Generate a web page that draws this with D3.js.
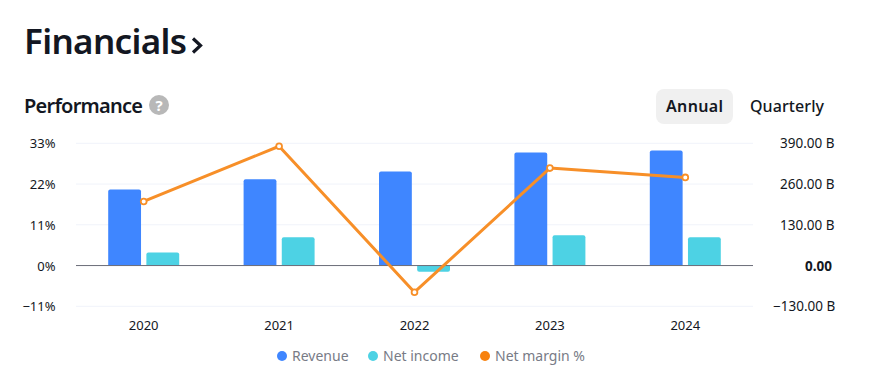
<!DOCTYPE html>
<html><head><meta charset="utf-8">
<script src="https://cdn.jsdelivr.net/npm/d3@7"></script>
<style>
html,body{margin:0;padding:0;background:#fff}
svg{display:block;font-family:"Noto Sans",sans-serif}
</style></head><body><svg id="c" width="873" height="391"></svg>
<script>
const years=["2020","2021","2022","2023","2024"];
const revenue=[243,275,300,361,367];
const netIncome=[42,90,-20,97,90];
const netMargin=[17.3,32.2,-7.2,26.3,23.8];
const leftTicks=[33,22,11,0,-11];
const rightTicks=[390,260,130,0,-130];
const leftLabels=["33%","22%","11%","0%","−11%"];
const rightLabels=["390.00 B","260.00 B","130.00 B","0.00","−130.00 B"];
const legendItems=[["Revenue","#3f86ff",282],["Net income","#4dd2e4",373],["Net margin %","#f7820f",485]];

const svg=d3.select("#c");
const x=d3.scaleBand().domain(years).range([76,753]);
const sub=d3.scaleBand().domain(["r","n"]).range([-35.5,35.5]).paddingInner(0.14);
const yL=d3.scaleLinear().domain([-11,33]).range([306.3,143.3]);
const yR=d3.scaleLinear().domain([-130,390]).range([306.3,143.3]);
const ink="#131722";

svg.append("text").attr("x",24).attr("y",54).attr("font-size",35).attr("font-weight",600).attr("fill",ink).attr("textLength",163).attr("lengthAdjust","spacing").text("Financials");
svg.append("path").attr("d","M193 38.5l7.5 7l-7.5 7").attr("fill","none").attr("stroke",ink).attr("stroke-width",3.2);
svg.append("text").attr("x",24).attr("y",113).attr("font-size",20).attr("font-weight",600).attr("fill",ink).attr("textLength",119).text("Performance");
svg.append("circle").attr("cx",159).attr("cy",105).attr("r",10).attr("fill","#b8b8b8");
svg.append("text").attr("x",159).attr("y",110.5).attr("text-anchor","middle").attr("font-size",15).attr("font-weight",700).attr("fill","#fff").text("?");
svg.append("rect").attr("x",656).attr("y",89).attr("width",77).attr("height",35).attr("rx",8).attr("fill","#f0f0f0");
svg.append("text").attr("x",694.5).attr("y",112).attr("text-anchor","middle").attr("font-size",16).attr("font-weight",600).attr("fill",ink).attr("textLength",57).text("Annual");
svg.append("text").attr("x",750).attr("y",112).attr("font-size",16).attr("font-weight",500).attr("fill",ink).attr("textLength",74).text("Quarterly");

// grid
const gridTicks=leftTicks.filter(t=>t!==0);
svg.append("g").selectAll("line").data(gridTicks).join("line")
 .attr("x1",76).attr("x2",753).attr("y1",d=>yL(d)).attr("y2",d=>yL(d)).attr("stroke","#f0f3fa").attr("stroke-width",1);

// left/right labels
svg.append("g").selectAll("text").data(leftTicks).join("text")
 .attr("x",55.5).attr("y",d=>yL(d)+5.1).attr("text-anchor","end").attr("font-size",13).attr("fill",ink)
 .text((d,i)=>leftLabels[i]);
svg.append("g").selectAll("text").data(rightTicks).join("text")
 .attr("x",780).attr("y",d=>yR(d)+5.1).attr("font-size",13.5).attr("fill",ink)
 .attr("font-weight",d=>d===0?700:400)
 .attr("dx",d=>d===0?25:(d<0?-7:0))
 .text((d,i)=>rightLabels[i]);

// bars
function bar(x0,w,y0,y1,r){ // rounded on the value end
 const top=Math.min(y0,y1),bot=Math.max(y0,y1);
 if(y1<y0) return `M${x0},${bot}V${top+r}Q${x0},${top} ${x0+r},${top}H${x0+w-r}Q${x0+w},${top} ${x0+w},${top+r}V${bot}Z`;
 return `M${x0},${top}V${bot-r}Q${x0},${bot} ${x0+r},${bot}H${x0+w-r}Q${x0+w},${bot} ${x0+w},${bot-r}V${top}Z`;
}
const cx=d=>x(d)+x.bandwidth()/2;
svg.append("g").selectAll("path").data(years).join("path")
 .attr("fill","#3f86ff").attr("d",(d,i)=>bar(cx(d)+sub("r"),sub.bandwidth(),yR(0),yR(revenue[i]),2));
svg.append("g").selectAll("path").data(years).join("path")
 .attr("fill","#4dd2e4").attr("d",(d,i)=>bar(cx(d)+sub("n"),sub.bandwidth(),yR(0),yR(netIncome[i]),2));

// zero line
svg.append("line").attr("x1",76).attr("x2",753).attr("y1",yL(0)).attr("y2",yL(0)).attr("stroke","#6a6d78").attr("stroke-width",1);

// line
const line=d3.line().x(d=>cx(d.y)).y(d=>yL(d.v));
const pts=years.map((y,i)=>({y,v:netMargin[i]}));
svg.append("path").datum(pts).attr("d",line).attr("fill","none").attr("stroke","#f78f28").attr("stroke-width",3).attr("stroke-linejoin","round");
svg.append("g").selectAll("circle").data(pts).join("circle")
 .attr("cx",d=>cx(d.y)).attr("cy",d=>yL(d.v)).attr("r",2.9).attr("fill","#fff").attr("stroke","#f78f28").attr("stroke-width",1.8);

// x labels
svg.append("g").selectAll("text").data(years).join("text")
 .attr("x",d=>cx(d)).attr("y",330).attr("text-anchor","middle").attr("font-size",13).attr("fill",ink).text(d=>d);

// legend
const lg=svg.append("g").selectAll("g").data(legendItems).join("g");
lg.append("circle").attr("cx",d=>d[2]).attr("cy",356).attr("r",5).attr("fill",d=>d[1]);
lg.append("text").attr("x",d=>d[2]+10).attr("y",361).attr("font-size",14).attr("fill","#787b86").text(d=>d[0]);
</script></body></html>
